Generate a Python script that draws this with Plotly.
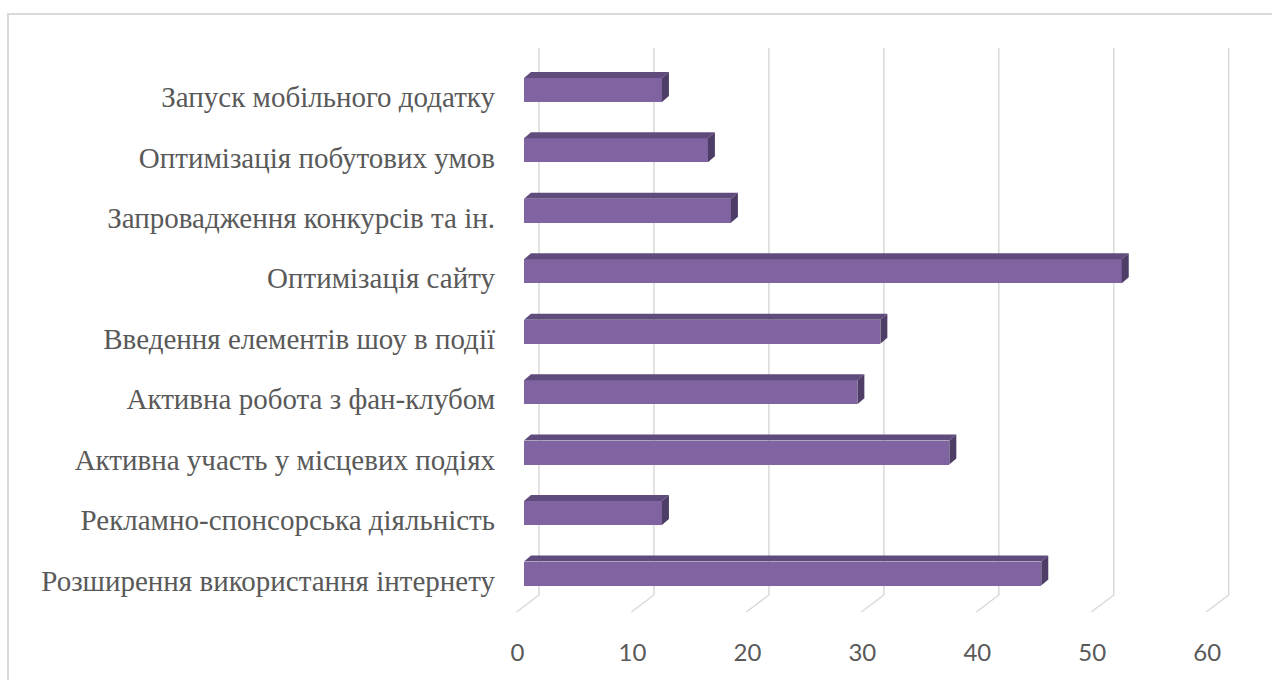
import plotly.graph_objects as go

# ---- data (bottom to top as drawn) ----
categories = [
    "Розширення використання інтернету",
    "Рекламно-спонсорська діяльність",
    "Активна участь у місцевих подіях",
    "Активна робота з фан-клубом",
    "Введення елементів шоу в події",
    "Оптимізація сайту",
    "Запровадження конкурсів та ін.",
    "Оптимізація побутових умов",
    "Запуск мобільного додатку",
]
values = [45, 12, 37, 29, 31, 52, 18, 16, 12]
x_ticks = [0, 10, 20, 30, 40, 50, 60]
x_tick_labels = ["0", "10", "20", "30", "40", "50", "60"]

# ---- geometry (pixels) ----
W, H = 1272, 680
L, R, T, B = 500, 1260, 14, 620
X0_PX, PX_PER_UNIT = 524.0, 11.495      # front plane of bars
Y0_PX, PX_PER_CAT = 573.5, 60.45        # centre of bottom bar

def ux(px):  # pixel offset -> x units
    return px / PX_PER_UNIT

def uy(px):  # pixel offset (downwards positive) -> y units
    return -px / PX_PER_CAT

xr = [(L - X0_PX) / PX_PER_UNIT, (R - X0_PX) / PX_PER_UNIT]
yr = [(Y0_PX - B) / PX_PER_CAT, (Y0_PX - T) / PX_PER_CAT]

FRONT = "#8064A2"
TOP = "#5F4B7C"
SIDE = "#4E3E67"
GRID = "#D9D9D9"
TEXT = "#595959"

bar_h_px = 24.0
bw = bar_h_px / PX_PER_CAT
dxf, dyf = ux(7.0), -uy(6.0)  # depth offset of bar top/side faces

idx = list(range(len(categories)))

fig = go.Figure()

# front faces
fig.add_trace(go.Bar(
    x=values, y=idx, orientation="h", width=bw,
    marker=dict(color=FRONT, line=dict(width=0)),
    hoverinfo="x", showlegend=False,
))

# top and side faces
for i, v in zip(idx, values):
    yt = i + bw / 2
    yb = i - bw / 2
    fig.add_trace(go.Scatter(
        x=[0, v, v + dxf, dxf, 0], y=[yt, yt, yt + dyf, yt + dyf, yt],
        mode="lines", fill="toself", fillcolor=TOP, line=dict(width=0, color=TOP),
        hoverinfo="skip", showlegend=False,
    ))
    fig.add_trace(go.Scatter(
        x=[v, v + dxf, v + dxf, v, v], y=[yb, yb + dyf, yt + dyf, yt, yb],
        mode="lines", fill="toself", fillcolor=SIDE, line=dict(width=0, color=SIDE),
        hoverinfo="skip", showlegend=False,
    ))

# gridlines (back wall + floor diagonal), below traces
shapes = []
back_dx = ux(15.0)
grid_top = (Y0_PX - 48) / PX_PER_CAT
grid_bot = (Y0_PX - 595) / PX_PER_CAT
floor_front_y = (Y0_PX - 612) / PX_PER_CAT
floor_front_dx = ux(-7.5)
for t in x_ticks:
    xb = t + back_dx
    xf = t + floor_front_dx
    shapes.append(dict(
        type="path", xref="x", yref="y", layer="below",
        path=f"M {xb},{grid_top} L {xb},{grid_bot} L {xf},{floor_front_y}",
        line=dict(color=GRID, width=1.5),
    ))

# chart-area border (left + top)
px2paper_x = lambda px: (px - L) / (R - L)
px2paper_y = lambda py: (B - py) / (B - T)
shapes.append(dict(
    type="path", xref="paper", yref="paper", layer="above",
    path=(f"M {px2paper_x(8)},{px2paper_y(700)} L {px2paper_x(8)},{px2paper_y(14)} "
          f"L {px2paper_x(1290)},{px2paper_y(14)}"),
    line=dict(color=GRID, width=2),
))

fig.update_layout(
    width=W, height=H,
    margin=dict(l=L, r=W - R, t=T, b=H - B),
    paper_bgcolor="white", plot_bgcolor="white",
    shapes=shapes,
    bargap=0,
    xaxis=dict(
        range=xr, showgrid=False, zeroline=False, showline=False,
        tickmode="array", tickvals=[t + ux(-6.5) for t in x_ticks], ticktext=x_tick_labels,
        ticks="", ticklabelstandoff=16,
        tickfont=dict(family="Lato", size=24, color=TEXT),
        fixedrange=True,
    ),
    yaxis=dict(
        range=yr, showgrid=False, zeroline=False, showline=False,
        tickmode="array", tickvals=[i + uy(7) for i in idx], ticktext=categories,
        ticks="", ticklabelstandoff=4,
        tickfont=dict(family="Liberation Serif", size=29, color=TEXT),
        fixedrange=True,
    ),
)

fig.write_html(
    "out.html",
    config={"displayModeBar": False},
    post_script="document.body.style.margin='0';document.body.style.overflow='hidden';",
)
